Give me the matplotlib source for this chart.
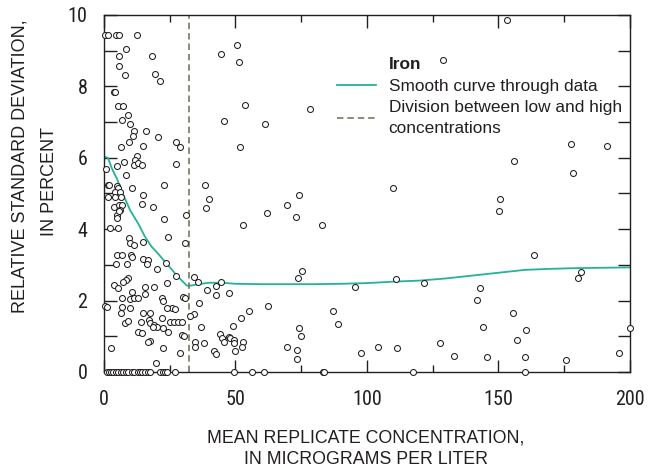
import matplotlib
matplotlib.use("Agg")
import matplotlib.pyplot as plt
from matplotlib.lines import Line2D

plt.rcParams["font.family"] = ["Liberation Sans", "DejaVu Sans"]
TICK_FAMILY = ["Roboto Condensed", "Liberation Sans", "DejaVu Sans"]

TEXT = "#231f20"
CURVE = "#22b39a"
DIVIDE = "#6d6a50"

# mean replicate concentration (ug/L)
conc = [0.3, 1.6, 4.4, 5.7, 12.6, 8.2, 5.7, 18.4, 5.8, 8.0, 19.4, 21.4, 3.8, 4.1, 5.4, 7.3,
        9.0, 7.0, 9.8, 11.5, 15.9,
        10.9, 20.4, 9.6, 6.5, 14.9, 27.2, 28.9, 12.4, 11.8, 0.8, 4.8, 7.6, 11.5, 12.8, 14.3, 27.2,
        8.4, 1.4, 1.9, 4.8, 5.4, 4.2, 6.1, 10.8, 22.9, 1.4, 4.2, 6.5, 14.7, 14.5, 3.9, 5.7, 6.7,
        6.1, 4.8, 5.7, 5.1, 18.5, 31.0, 22.9, 2.3, 5.2, 9.6, 9.9, 11.4, 14.7, 24.2, 30.8,
        4.8, 6.7, 10.3, 10.8, 4.4, 8.6, 14.9, 16.8, 16.2, 20.0, 23.4, 9.2, 8.2, 7.3, 3.8, 5.2,
        15.6, 19.0, 23.8, 27.4, 34.3, 10.8, 15.6, 6.7, 9.9, 11.5, 12.8, 21.9, 22.3, 30.2, 30.8,
        0.4, 1.0, 6.7, 9.9, 26.0, 27.0, 24.1, 34.3, 32.7, 6.5, 14.7, 17.5, 8.0, 9.2, 14.1, 17.2,
        17.5, 19.1, 20.2, 18.7, 21.9, 25.1, 26.7, 28.3, 29.8, 22.5, 24.2, 12.8, 14.3, 17.5, 16.6,
        29.8, 30.4, 34.6, 34.6, 22.5, 28.9, 2.7, 19.8,
        1.0, 1.9, 2.7, 3.5, 4.4, 5.2, 6.5, 7.3, 8.2, 9.2, 10.5, 11.5, 12.8, 13.7, 14.5, 15.6,
        16.6, 17.5, 21.3, 22.3, 23.2, 24.1, 27.0,
        50.4, 44.4, 51.3, 53.7, 45.6, 61.2, 78.4, 51.7, 38.5, 74.0, 39.9, 38.7, 53.0, 61.9, 69.7,
        73.1, 83.1, 35.9, 39.0, 42.5, 44.5, 42.6, 47.4, 73.9, 75.4, 36.0, 62.5, 55.0, 52.1, 87.2,
        89.1, 36.8, 48.9, 44.2, 45.0, 45.5, 47.6, 48.0, 49.5, 49.3, 52.7, 52.6, 37.9, 41.8, 42.6,
        49.8, 69.6, 73.4, 73.5, 74.0, 75.1,
        49.5, 56.3, 60.8, 83.2, 83.5,
        129.0, 110.0, 95.4, 111.2, 121.6, 143.0, 141.8, 144.0, 97.7, 104.3, 111.4, 127.8, 133.1,
        117.6, 153.1, 155.9, 177.6, 191.3, 178.4, 150.8, 150.2, 163.5, 181.6, 180.1, 155.7,
        160.6, 157.0, 200.0, 145.6, 160.2, 175.7, 195.8, 160.0]

# relative standard deviation (percent)
rsd = [9.44, 9.44, 9.44, 9.44, 9.44, 9.04, 8.85, 8.85, 8.58, 8.32, 8.34, 8.15, 7.85, 7.84, 7.46, 7.46,
       7.20, 7.06, 6.95, 6.75, 6.75,
       6.62, 6.59, 6.43, 6.30, 6.33, 6.45, 6.31, 6.05, 5.94, 5.68, 5.76, 5.89, 5.80, 5.84, 5.80, 5.82,
       5.53, 5.24, 5.24, 5.22, 5.15, 5.05, 5.05, 5.16, 5.24, 4.91, 4.91, 4.91, 4.97, 4.71, 4.63, 4.69, 4.69,
       4.55, 4.41, 4.50, 4.32, 4.63, 4.40, 4.28, 4.02, 4.04, 3.74, 3.60, 3.57, 3.63, 3.77, 3.60,
       3.28, 3.28, 3.28, 3.23, 3.02, 3.02, 3.17, 3.14, 3.02, 2.89, 3.04, 2.62, 2.57, 2.51, 2.44, 2.34,
       2.39, 2.39, 2.48, 2.70, 2.67, 2.23, 2.18, 2.06, 2.04, 2.08, 2.06, 2.06, 2.00, 2.11, 2.08,
       1.86, 1.83, 1.83, 1.80, 1.80, 1.76, 1.78, 1.62, 1.58, 1.66, 1.66, 1.66, 1.38, 1.43, 1.39, 1.46,
       1.38, 1.32, 1.27, 1.25, 1.52, 1.41, 1.41, 1.39, 1.41, 1.24, 1.11, 1.11, 1.08, 0.87, 0.85,
       1.04, 1.02, 0.85, 0.70, 0.66, 0.52, 0.66, 0.24,
       0, 0, 0, 0, 0, 0, 0, 0, 0, 0, 0, 0, 0, 0, 0, 0,
       0, 0, 0, 0, 0, 0, 0,
       9.16, 8.90, 8.68, 7.48, 7.03, 6.96, 7.38, 6.30, 5.24, 4.95, 4.85, 4.60, 4.13, 4.44, 4.69,
       4.33, 4.12, 2.51, 2.31, 2.42, 2.51, 2.16, 2.21, 2.62, 2.83, 1.93, 1.86, 1.71, 1.50, 1.71,
       1.35, 1.25, 1.28, 1.07, 0.94, 0.83, 0.98, 0.96, 0.90, 0.81, 0.85, 0.69, 0.82, 0.59, 0.50,
       0.60, 0.70, 0.62, 0.36, 1.22, 1.00,
       0, 0, 0, 0, 0,
       8.74, 5.16, 2.39, 2.61, 2.48, 2.36, 2.03, 1.27, 0.54, 0.71, 0.68, 0.82, 0.44,
       0, 9.86, 5.91, 6.40, 6.33, 5.58, 4.85, 4.50, 3.27, 2.81, 2.62, 1.65,
       1.18, 0.90, 1.24, 0.42, 0.43, 0.34, 0.54, 0]

# smooth curve through the data
curve_x = [0.5, 1.5, 3, 5, 7, 10, 13, 15.5, 18, 20.5, 24, 27.5, 31.5, 33, 36, 40, 45, 50,
           60, 70, 80, 90, 100, 110, 120, 130, 140, 150, 160, 170, 180, 190, 200]
curve_y = [6.02, 6.00, 5.70, 5.40, 5.02, 4.52, 4.16, 3.80, 3.52, 3.32, 3.02, 2.72, 2.42, 2.42,
           2.46, 2.50, 2.50, 2.47, 2.46, 2.46, 2.46, 2.47, 2.49, 2.53, 2.56, 2.62, 2.70, 2.78,
           2.86, 2.89, 2.91, 2.92, 2.93]

division_x = 32.5

fig = plt.figure(figsize=(6.5, 4.74), dpi=100)
ax = fig.add_axes([0.16, 0.2152, 0.809, 0.7532])

ax.plot(conc, rsd, linestyle="none", marker="o", markersize=4.3, markerfacecolor="white",
        markeredgecolor=TEXT, markeredgewidth=0.75, clip_on=False, zorder=3)
ax.plot(curve_x, curve_y, color=CURVE, linewidth=1.3, zorder=2)
ax.axvline(division_x, color=DIVIDE, linewidth=1.1, dashes=(4.2, 2.6), zorder=2)

ax.set_xlim(0, 200)
ax.set_ylim(0, 10)
ax.set_xticks([0, 50, 100, 150, 200])
ax.set_xticks([25, 75, 125, 175], minor=True)
ax.set_yticks([0, 2, 4, 6, 8, 10])
ax.set_yticks([1, 3, 5, 7, 9], minor=True)

for s in ax.spines.values():
    s.set_color(TEXT)
    s.set_linewidth(1.0)

ax.tick_params(which="both", direction="in", top=True, right=True, colors=TEXT,
               labelsize=14.5, width=1.0, labelfontfamily=TICK_FAMILY)
ax.tick_params(which="major", length=9)
ax.tick_params(axis="x", which="major", pad=13)
ax.tick_params(axis="y", which="major", pad=12)
ax.tick_params(which="minor", length=5)
ax.tick_params(axis="y", which="minor", right=True, length=9)

fig.text(0.563, 0.0535, "MEAN REPLICATE CONCENTRATION,\nIN MICROGRAMS PER LITER",
         ha="center", va="center", fontsize=12.8, color=TEXT, linespacing=1.32)
fig.text(20 / 650, 1 - 166.5 / 474, "RELATIVE STANDARD DEVIATION,", rotation=90,
         ha="center", va="center", fontsize=13, color=TEXT)
fig.text(49 / 650, 1 - 181.5 / 474, "IN PERCENT", rotation=90,
         ha="center", va="center", fontsize=13, color=TEXT)

handles = [Line2D([], [], linestyle="none"),
           Line2D([], [], color=CURVE, linewidth=1.3),
           Line2D([], [], color=DIVIDE, linewidth=1.1, dashes=(4.2, 2.6))]
labels = ["Iron", "Smooth curve through data", "Division between low and high\nconcentrations"]
leg = ax.legend(handles, labels, loc="upper left",
                bbox_to_anchor=(0.43, 0.901), frameon=False, fontsize=12.4,
                handlelength=2.25, handletextpad=0.75, labelspacing=0.38,
                borderaxespad=0, labelcolor=TEXT)
leg.get_texts()[0].set_fontweight("bold")
leg.get_texts()[2].set_linespacing(1.45)

fig.savefig("out.png", dpi=100)
